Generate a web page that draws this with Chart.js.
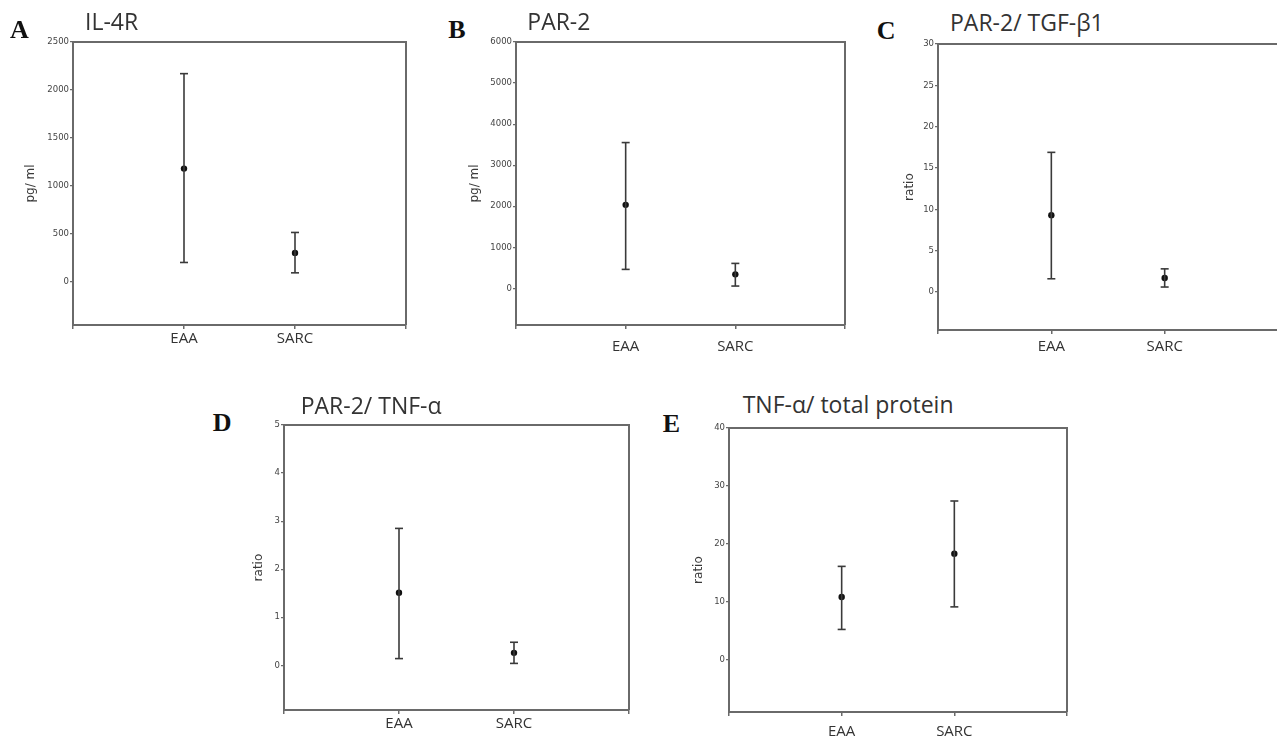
<!DOCTYPE html>
<html>
<head>
<meta charset="utf-8">
<script src="https://cdn.jsdelivr.net/npm/chart.js@4/dist/chart.umd.min.js"></script>
<style>
  html, body { margin: 0; padding: 0; background: #fff; }
  body { width: 1277px; height: 740px; position: relative; overflow: hidden; }
  .panel { position: absolute; }
  .panel canvas { display: block; }
  .title { position: absolute; font-family: "Open Sans", sans-serif; font-size: 23px; line-height: 23px; color: #333; white-space: nowrap; }
  .letter { position: absolute; font-family: "Liberation Serif", serif; font-weight: bold; font-size: 26px; line-height: 26px; color: #111; }
</style>
</head>
<body>
<script>
// groups on the x axis
const groups = ["EAA", "SARC"];

// A: IL-4R (pg/ ml)
const il4rMean = [1181, 302];
const il4rUpper = [2171, 515];
const il4rLower = [202, 94];
const il4rTicks = [0, 500, 1000, 1500, 2000, 2500];

// B: PAR-2 (pg/ ml)
const par2Mean = [2034, 341];
const par2Upper = [3552, 608];
const par2Lower = [462, 56];
const par2Ticks = [0, 1000, 2000, 3000, 4000, 5000, 6000];

// C: PAR-2/ TGF-b1 (ratio)
const tgfMean = [9.3, 1.7];
const tgfUpper = [16.9, 2.8];
const tgfLower = [1.6, 0.6];
const tgfTicks = [0, 5, 10, 15, 20, 25, 30];

// D: PAR-2/ TNF-a (ratio)
const tnfMean = [1.51, 0.26];
const tnfUpper = [2.85, 0.48];
const tnfLower = [0.14, 0.04];
const tnfTicks = [0, 1, 2, 3, 4, 5];

// E: TNF-a/ total protein (ratio)
const protMean = [10.8, 18.3];
const protUpper = [16.1, 27.4];
const protLower = [5.2, 9.1];
const protTicks = [0, 10, 20, 30, 40];

// panel layout (page pixels of the plot frame)
const panels = [
  { letter: "A", title: "IL-4R", yTitle: "pg/ ml", mean: il4rMean, upper: il4rUpper, lower: il4rLower, ticks: il4rTicks, yMin: -450,
    left: 73, top: 42, right: 406, bottom: 325, yw: 49, xPad: 1, letterPos: [10, 38.3], titlePos: [85, 30] },
  { letter: "B", title: "PAR-2", yTitle: "pg/ ml", mean: par2Mean, upper: par2Upper, lower: par2Lower, ticks: par2Ticks, yMin: -893,
    left: 516, top: 42, right: 848, bottom: 325, yw: 48, xPad: 9, letterPos: [448.3, 38.3], titlePos: [527.3, 30] },
  { letter: "C", title: "PAR-2/ TGF-β1", yTitle: "ratio", mean: tgfMean, upper: tgfUpper, lower: tgfLower, ticks: tgfTicks, yMin: -4.6,
    left: 938, top: 44, right: 1278, bottom: 330, yw: 35, xPad: 4, letterPos: [876.7, 39.3], titlePos: [950, 31.7] },
  { letter: "D", title: "PAR-2/ TNF-α", yTitle: "ratio", mean: tnfMean, upper: tnfUpper, lower: tnfLower, ticks: tnfTicks, yMin: -0.93,
    left: 284, top: 425, right: 629, bottom: 710, yw: 32, xPad: 1, letterPos: [212.7, 431.7], titlePos: [300.7, 414.3] },
  { letter: "E", title: "TNF-α/ total protein", yTitle: "ratio", mean: protMean, upper: protUpper, lower: protLower, ticks: protTicks, yMin: -9.07,
    left: 729, top: 428, right: 1068, bottom: 712, yw: 37, xPad: 7, letterPos: [662.7, 432.3], titlePos: [742.7, 413.3] }
];

const AXIS_COLOR = "#6a6a6a";

// top and right lines of the frame
const framePlugin = {
  id: "frame",
  afterDraw(chart) {
    const a = chart.chartArea;
    const ctx = chart.ctx;
    ctx.save();
    ctx.strokeStyle = AXIS_COLOR;
    ctx.lineWidth = 2;
    ctx.beginPath();
    ctx.moveTo(a.left, a.top);
    ctx.lineTo(a.right, a.top);
    ctx.lineTo(a.right, a.bottom);
    ctx.stroke();
    ctx.restore();
  }
};

const PAD_TOP = 6, PAD_RIGHT = 6, X_H = 40;

function makePanel(p) {
  const w = p.yw + (p.right - p.left) + PAD_RIGHT;
  const h = PAD_TOP + (p.bottom - p.top) + X_H;
  const box = document.createElement("div");
  box.className = "panel";
  box.style.left = (p.left - p.yw) + "px";
  box.style.top = (p.top - PAD_TOP) + "px";
  box.style.width = w + "px";
  box.style.height = h + "px";
  const canvas = document.createElement("canvas");
  canvas.width = w;
  canvas.height = h;
  canvas.style.width = w + "px";
  canvas.style.height = h + "px";
  box.appendChild(canvas);
  document.body.appendChild(box);

  const letter = document.createElement("div");
  letter.className = "letter";
  letter.textContent = p.letter;
  letter.style.left = p.letterPos[0] + "px";
  letter.style.top = (p.letterPos[1] - 21.8) + "px";
  document.body.appendChild(letter);

  const title = document.createElement("div");
  title.className = "title";
  title.textContent = p.title;
  title.style.left = p.titlePos[0] + "px";
  title.style.top = (p.titlePos[1] - 20.4) + "px";
  document.body.appendChild(title);

  const datasets = [];
  groups.forEach((g, i) => {
    datasets.push({
      label: g + " range",
      data: [{ x: i + 1, y: p.lower[i] }, { x: i + 1, y: p.upper[i] }],
      showLine: true,
      borderColor: "#3a3a3a",
      borderWidth: 1.6,
      pointStyle: "line",
      pointRadius: 4,
      pointBorderWidth: 1.6,
      pointBorderColor: "#3a3a3a"
    });
  });
  datasets.push({
    label: "mean",
    data: p.mean.map((m, i) => ({ x: i + 1, y: m })),
    pointStyle: "circle",
    pointRadius: 3.2,
    backgroundColor: "#111",
    borderColor: "#111",
    borderWidth: 0
  });

  new Chart(canvas, {
    type: "scatter",
    data: { datasets },
    options: {
      responsive: false,
      animation: false,
      devicePixelRatio: 1,
      layout: { padding: { top: PAD_TOP, right: PAD_RIGHT, left: 0, bottom: 0 } },
      plugins: { legend: { display: false }, tooltip: { enabled: false } },
      scales: {
        x: {
          type: "linear",
          min: 0,
          max: 3,
          afterBuildTicks: s => { s.ticks = [0, 1, 2, 3].map(v => ({ value: v })); },
          afterFit: s => { s.height = X_H; },
          grid: { drawOnChartArea: false, drawTicks: true, tickLength: 4, color: AXIS_COLOR, lineWidth: 1.5 },
          border: { display: true, color: AXIS_COLOR, width: 2 },
          ticks: {
            autoSkip: false,
            maxRotation: 0,
            padding: p.xPad,
            color: "#333",
            font: { family: "Open Sans", size: 15 },
            callback: v => groups[v - 1] || ""
          }
        },
        y: {
          min: p.yMin,
          max: p.ticks[p.ticks.length - 1],
          afterBuildTicks: s => { s.ticks = p.ticks.map(v => ({ value: v })); },
          afterFit: s => { s.width = p.yw; },
          grid: { drawOnChartArea: false, drawTicks: true, tickLength: 3, color: AXIS_COLOR, lineWidth: 1.3 },
          border: { display: true, color: AXIS_COLOR, width: 2 },
          ticks: { padding: 1, color: "#444", font: { family: "DejaVu Sans", size: 8.5 }, callback: v => String(v) },
          title: { display: true, text: p.yTitle, padding: 0, color: "#3a3a3a", font: { family: "DejaVu Sans", size: 12 } }
        }
      }
    },
    plugins: [framePlugin]
  });
}

panels.forEach(makePanel);
</script>
</body>
</html>
